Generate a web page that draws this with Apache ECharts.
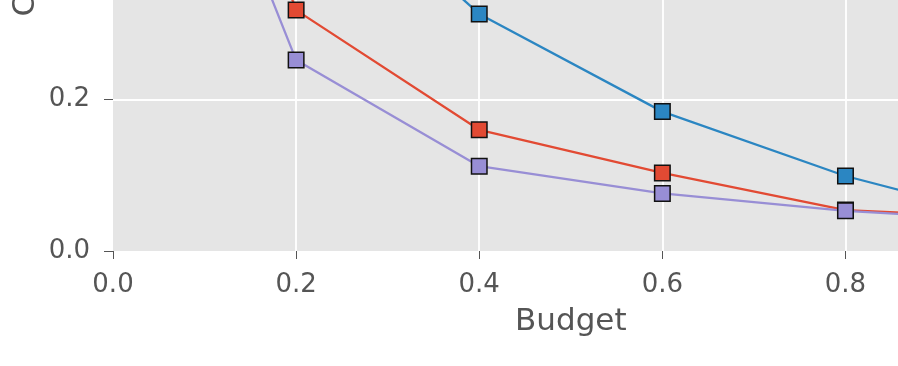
<!DOCTYPE html>
<html>
<head>
<meta charset="utf-8">
<script src="https://cdn.jsdelivr.net/npm/echarts@6/dist/echarts.min.js"></script>
<style>
html,body{margin:0;padding:0;background:#fff;overflow:hidden;width:898px;height:366px;position:relative;}
#chart{position:absolute;left:0;top:-507px;width:1029px;height:873px;}
</style>
</head>
<body>
<div id="chart"></div>
<script>
// Data
const budget = [0.0, 0.2, 0.4, 0.6, 0.8, 1.0];
const seriesRed = [0.98, 0.318, 0.160, 0.103, 0.054, 0.043];
const seriesBlue = [0.95, 0.53, 0.313, 0.184, 0.099, 0.036];
const seriesPurple = [0.86, 0.252, 0.112, 0.076, 0.053, 0.039];
const seriesNames = ['Method A', 'Method B', 'Method C'];
const xTitle = 'Budget';
const yTitle = 'Cost';

const pairs = (ys) => budget.map((x, i) => [x, ys[i]]);

const colors = ['#E24A33', '#2B86C2', '#988ED5'];
const values = [seriesRed, seriesBlue, seriesPurple];

const chart = echarts.init(document.getElementById('chart'), null, {renderer: 'canvas'});
chart.setOption({
  animation: false,
  backgroundColor: '#ffffff',
  grid: {
    left: 113, right: 0.4, top: 0.5, bottom: 115,
    outerBoundsMode: 'none', containLabel: false,
    show: true, backgroundColor: '#E5E5E5', borderWidth: 0
  },
  xAxis: {
    type: 'value', min: 0, max: 1.0, interval: 0.2, offset: 3,
    name: xTitle, nameLocation: 'middle', nameGap: 52,
    nameTextStyle: {fontFamily: 'DejaVu Sans', fontSize: 31, color: '#555555'},
    axisLine: {show: false},
    axisTick: {show: true, length: 8, lineStyle: {color: '#555555', width: 1}},
    axisLabel: {margin: 18, fontFamily: 'DejaVu Sans', fontSize: 26, color: '#555555',
      formatter: v => v.toFixed(1)},
    splitLine: {show: true, showMinLine: false, showMaxLine: false, lineStyle: {color: '#ffffff', width: 1.8}}
  },
  yAxis: {
    type: 'value', min: 0, max: 1.0, interval: 0.2, offset: 3,
    axisLine: {show: false},
    axisTick: {show: true, length: 9, lineStyle: {color: '#555555', width: 1}},
    axisLabel: {margin: 20, fontFamily: 'DejaVu Sans', fontSize: 26, color: '#555555',
      formatter: v => v.toFixed(1)},
    splitLine: {show: true, showMinLine: false, showMaxLine: false, lineStyle: {color: '#ffffff', width: 1.8}}
  },
  graphic: [{
    type: 'text', x: 26, y: 523.5, rotation: Math.PI / 2,
    style: {text: yTitle, fontFamily: 'DejaVu Sans', fontSize: 31, fill: '#555555',
      align: 'left', verticalAlign: 'middle'}
  }],
  series: values.map((ys, i) => ({
    type: 'line', name: seriesNames[i], data: pairs(ys),
    symbol: 'rect', symbolSize: 15.5, showAllSymbol: true,
    lineStyle: {color: colors[i], width: 2.3},
    itemStyle: {color: colors[i], borderColor: '#111111', borderWidth: 1.5},
    z: 2 + i
  }))
});
</script>
</body>
</html>
